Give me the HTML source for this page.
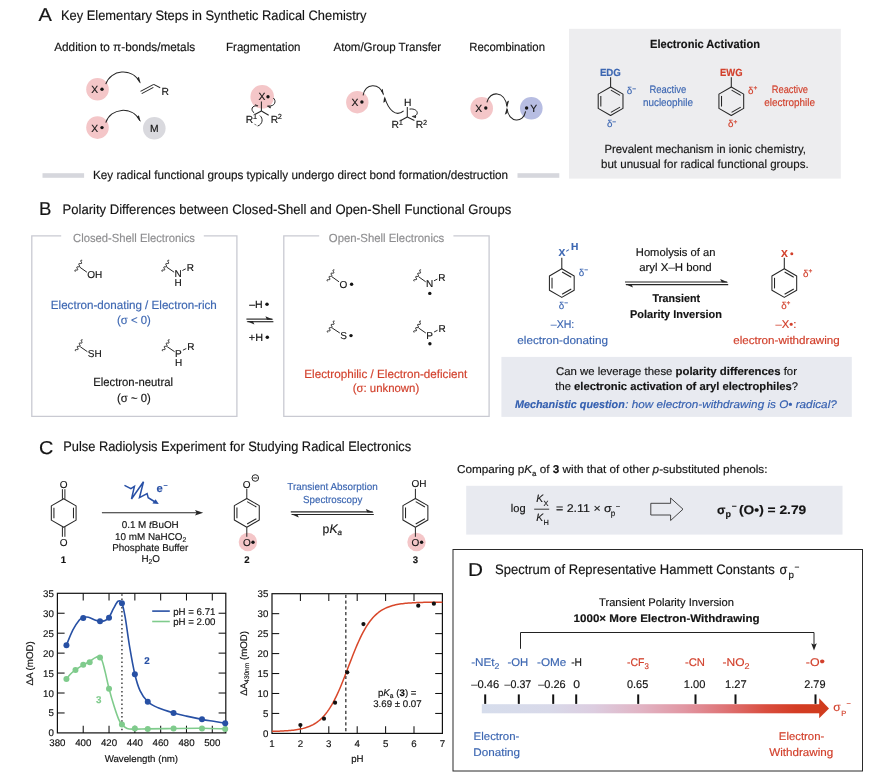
<!DOCTYPE html>
<html lang="en"><head><meta charset="utf-8"><title>Radical electronics figure</title>
<style>html,body{margin:0;padding:0;background:#fff}body{width:880px;height:783px;overflow:hidden}svg{display:block;font-family:"Liberation Sans",sans-serif;text-rendering:geometricPrecision}text{stroke-width:.16px}</style></head>
<body>
<svg width="880" height="783" viewBox="0 0 880 783">
<text x="38.6" y="21.2" font-size="18.6" fill="#141414" stroke="#141414" textLength="13.4" lengthAdjust="spacingAndGlyphs">A</text>
<text x="61" y="19.8" font-size="13.7" fill="#141414" stroke="#141414" textLength="305.5" lengthAdjust="spacingAndGlyphs">Key Elementary Steps in Synthetic Radical Chemistry</text>
<text x="54.2" y="50.8" font-size="12.0" fill="#141414" stroke="#141414" textLength="141" lengthAdjust="spacingAndGlyphs">Addition to π-bonds/metals</text>
<text x="226" y="50.8" font-size="12.0" fill="#141414" stroke="#141414" textLength="74.5" lengthAdjust="spacingAndGlyphs">Fragmentation</text>
<text x="333.5" y="50.8" font-size="12.0" fill="#141414" stroke="#141414" textLength="107.6" lengthAdjust="spacingAndGlyphs">Atom/Group Transfer</text>
<text x="469.2" y="50.8" font-size="12.0" fill="#141414" stroke="#141414" textLength="75.8" lengthAdjust="spacingAndGlyphs">Recombination</text>
<circle cx="97.5" cy="89.2" r="11.3" fill="#f4c6c8"/>
<text x="91.3" y="93.3" font-size="10.3" fill="#141414" stroke="#141414" stroke-width="0.25">X</text>
<circle cx="102" cy="89.2" r="1.7" fill="#141414"/>
<path d="M105.8,84.2 C110.5,69.5 132,67 140,82.4" stroke="#262626" stroke-width="1.05" fill="none"/>
<polygon points="140.70,83.80 138.90,76.80 137.00,78.60 139.30,81.60" fill="#262626"/>
<line x1="140.50" y1="91.40" x2="153.70" y2="84.40" stroke="#262626" stroke-width="1.05"/>
<line x1="141.70" y1="93.60" x2="153.40" y2="87.40" stroke="#262626" stroke-width="1.05"/>
<line x1="153.70" y1="84.40" x2="160.20" y2="87.80" stroke="#262626" stroke-width="1.05"/>
<text x="161.6" y="94.6" font-size="10.3" fill="#141414" stroke="#141414" stroke-width="0.25">R</text>
<circle cx="97.5" cy="127.6" r="11.3" fill="#f4c6c8"/>
<text x="91.3" y="131.6" font-size="10.3" fill="#141414" stroke="#141414" stroke-width="0.25">X</text>
<circle cx="102" cy="127.6" r="1.7" fill="#141414"/>
<path d="M105.8,122.6 C110.5,107.9 132,105.4 140,120.8" stroke="#262626" stroke-width="1.05" fill="none"/>
<polygon points="140.70,122.20 138.90,115.20 137.00,117.00 139.30,120.00" fill="#262626"/>
<circle cx="154.3" cy="128.2" r="11.3" fill="#d9d9de"/>
<text x="154.3" y="131.9" font-size="10.3" fill="#141414" text-anchor="middle" stroke="#141414" stroke-width="0.25">M</text>
<circle cx="262.2" cy="96.8" r="11.8" fill="#f4c6c8"/>
<text x="258.4" y="100.4" font-size="10.3" fill="#141414" stroke="#141414" stroke-width="0.25">X</text>
<circle cx="268" cy="96.8" r="1.7" fill="#141414"/>
<line x1="261.40" y1="101.60" x2="261.40" y2="111.00" stroke="#262626" stroke-width="1.05"/>
<line x1="261.40" y1="111.00" x2="255.30" y2="114.20" stroke="#262626" stroke-width="1.05"/>
<line x1="261.40" y1="111.00" x2="268.70" y2="115.20" stroke="#262626" stroke-width="1.05"/>
<text x="245.8" y="122.5" font-size="10.3" fill="#141414" stroke="#141414" stroke-width="0.25">R</text>
<text x="252.9" y="119.4" font-size="7.4" fill="#141414" stroke="#141414">1</text>
<text x="270.8" y="122.5" font-size="10.3" fill="#141414" stroke="#141414" stroke-width="0.25">R</text>
<text x="277.8" y="119.4" font-size="7.4" fill="#141414" stroke="#141414">2</text>
<path d="M273.3,98 C276.4,100.3 275.8,107 267.4,106" stroke="#262626" stroke-width="1.0" fill="none"/>
<polygon points="266.70,105.90 270.40,108.60 271.00,106.50" fill="#262626"/>
<path d="M254.2,112.9 C250.3,110.2 251.5,104.9 258,105.9" stroke="#262626" stroke-width="1.0" fill="none"/>
<polygon points="258.60,106.00 255.00,104.00 255.60,105.60" fill="#262626"/>
<path d="M259.9,115.6 C263.4,118.3 262.8,124.4 257.6,126" stroke="#262626" stroke-width="1.0" fill="none"/>
<polygon points="257.00,126.20 253.60,123.40 255.30,124.20" fill="#262626"/>
<circle cx="357.3" cy="102.2" r="11.2" fill="#f4c6c8"/>
<text x="351.6" y="105.8" font-size="10.3" fill="#141414" stroke="#141414" stroke-width="0.25">X</text>
<circle cx="361.9" cy="102" r="1.7" fill="#141414"/>
<path d="M363.1,95.4 C365.5,83 379,82.5 383.5,94.6" stroke="#262626" stroke-width="1.05" fill="none"/>
<polygon points="383.90,95.90 382.70,88.80 380.90,91.00 382.90,93.20" fill="#262626"/>
<path d="M403.6,110.8 C396,117.5 388.5,110 384.7,97.6" stroke="#262626" stroke-width="1.05" fill="none"/>
<polygon points="384.30,96.20 383.30,102.80 385.50,101.60 385.10,99.40" fill="#262626"/>
<text x="403.9" y="105.8" font-size="10.3" fill="#141414" stroke="#141414" stroke-width="0.25">H</text>
<line x1="407.30" y1="107.00" x2="407.30" y2="117.00" stroke="#262626" stroke-width="1.05"/>
<line x1="407.30" y1="117.00" x2="400.80" y2="120.50" stroke="#262626" stroke-width="1.05"/>
<line x1="407.30" y1="117.00" x2="414.40" y2="120.50" stroke="#262626" stroke-width="1.05"/>
<text x="391.5" y="127.6" font-size="10.3" fill="#141414" stroke="#141414" stroke-width="0.25">R</text>
<text x="398.7" y="125" font-size="7.4" fill="#141414" stroke="#141414">1</text>
<text x="415.8" y="127.6" font-size="10.3" fill="#141414" stroke="#141414" stroke-width="0.25">R</text>
<text x="423.1" y="125" font-size="7.4" fill="#141414" stroke="#141414">2</text>
<path d="M409.5,109.1 C418.4,107.8 420,116 412.4,116.4" stroke="#262626" stroke-width="1.0" fill="none"/>
<polygon points="411.40,116.50 415.80,118.20 416.20,115.90" fill="#262626"/>
<circle cx="481.7" cy="108.3" r="11.3" fill="#f4c6c8"/>
<circle cx="531.3" cy="108.3" r="11.3" fill="#b7bde2"/>
<text x="475.2" y="112" font-size="10.3" fill="#141414" stroke="#141414" stroke-width="0.25">X</text>
<circle cx="485.8" cy="108" r="1.7" fill="#141414"/>
<circle cx="526.6" cy="108" r="1.7" fill="#141414"/>
<text x="530.2" y="112" font-size="10.3" fill="#141414" stroke="#141414" stroke-width="0.25">Y</text>
<path d="M486.9,102.3 C489.5,90.5 505,90.5 506.9,106.4" stroke="#262626" stroke-width="1.05" fill="none"/>
<polygon points="507.00,107.90 509.10,100.60 506.50,102.00 506.60,104.60" fill="#262626"/>
<path d="M525.6,111.4 C523.5,123.5 508.5,123 507.1,108.8" stroke="#262626" stroke-width="1.05" fill="none"/>
<polygon points="507.00,107.20 504.80,114.70 507.50,113.10 507.40,110.60" fill="#262626"/>
<rect x="42.5" y="173.2" width="41.6" height="4.6" fill="#d6d7dd"/>
<rect x="517.5" y="173.2" width="41.8" height="4.6" fill="#d6d7dd"/>
<text x="93" y="178.7" font-size="12.0" fill="#141414" stroke="#141414" textLength="415" lengthAdjust="spacingAndGlyphs">Key radical functional groups typically undergo direct bond formation/destruction</text>
<rect x="569" y="28.8" width="271.8" height="149.8" fill="#ededef"/>
<text x="650" y="48" font-size="11.8" fill="#141414" stroke="#141414" font-weight="bold" textLength="110" lengthAdjust="spacingAndGlyphs">Electronic Activation</text>
<text x="599.9" y="75.9" font-size="10.3" fill="#3d67b2" stroke="#3d67b2" font-weight="bold" textLength="21" lengthAdjust="spacingAndGlyphs">EDG</text>
<polygon points="610.60,86.95 622.98,94.10 622.98,108.40 610.60,115.55 598.22,108.40 598.22,94.10" fill="none" stroke="#262626" stroke-width="1.05" stroke-linejoin="round"/>
<line x1="610.91" y1="90.13" x2="620.07" y2="95.42" stroke="#262626" stroke-width="1.05"/>
<line x1="620.07" y1="107.08" x2="610.91" y2="112.37" stroke="#262626" stroke-width="1.05"/>
<line x1="600.82" y1="106.54" x2="600.82" y2="95.96" stroke="#262626" stroke-width="1.05"/>
<line x1="610.60" y1="77.20" x2="610.60" y2="87.20" stroke="#262626" stroke-width="1.05"/>
<text x="626.8" y="94.2" font-size="9.8" fill="#3d67b2" stroke="#3d67b2">δ</text>
<text x="632.1999999999999" y="90.8" font-size="6.6" fill="#3d67b2" stroke="#3d67b2">−</text>
<text x="606.9" y="127.4" font-size="9.8" fill="#3d67b2" stroke="#3d67b2">δ</text>
<text x="612.3" y="124.0" font-size="6.6" fill="#3d67b2" stroke="#3d67b2">−</text>
<text x="649.5" y="92.6" font-size="10.8" fill="#3d67b2" stroke="#3d67b2" textLength="36.8" lengthAdjust="spacingAndGlyphs">Reactive</text>
<text x="643" y="105.8" font-size="10.8" fill="#3d67b2" stroke="#3d67b2" textLength="50" lengthAdjust="spacingAndGlyphs">nucleophile</text>
<text x="720" y="75.9" font-size="10.3" fill="#d2402c" stroke="#d2402c" font-weight="bold" textLength="22.5" lengthAdjust="spacingAndGlyphs">EWG</text>
<polygon points="731.30,86.95 743.68,94.10 743.68,108.40 731.30,115.55 718.92,108.40 718.92,94.10" fill="none" stroke="#262626" stroke-width="1.05" stroke-linejoin="round"/>
<line x1="731.61" y1="90.13" x2="740.77" y2="95.42" stroke="#262626" stroke-width="1.05"/>
<line x1="740.77" y1="107.08" x2="731.61" y2="112.37" stroke="#262626" stroke-width="1.05"/>
<line x1="721.52" y1="106.54" x2="721.52" y2="95.96" stroke="#262626" stroke-width="1.05"/>
<line x1="731.30" y1="77.20" x2="731.30" y2="87.20" stroke="#262626" stroke-width="1.05"/>
<text x="748" y="93.6" font-size="9.8" fill="#d2402c" stroke="#d2402c">δ</text>
<text x="753.4" y="90.19999999999999" font-size="6.6" fill="#d2402c" stroke="#d2402c">+</text>
<text x="728" y="127.4" font-size="9.8" fill="#d2402c" stroke="#d2402c">δ</text>
<text x="733.4" y="124.0" font-size="6.6" fill="#d2402c" stroke="#d2402c">+</text>
<text x="771.8" y="92.6" font-size="10.8" fill="#d2402c" stroke="#d2402c" textLength="36.2" lengthAdjust="spacingAndGlyphs">Reactive</text>
<text x="764.2" y="105.8" font-size="10.8" fill="#d2402c" stroke="#d2402c" textLength="50.8" lengthAdjust="spacingAndGlyphs">electrophile</text>
<text x="604.4" y="152.6" font-size="11.8" fill="#141414" stroke="#141414" textLength="201.6" lengthAdjust="spacingAndGlyphs">Prevalent mechanism in ionic chemistry,</text>
<text x="601" y="168.4" font-size="11.8" fill="#141414" stroke="#141414" textLength="207.6" lengthAdjust="spacingAndGlyphs">but unusual for radical functional groups.</text>
<text x="39.1" y="215.1" font-size="18.6" fill="#141414" stroke="#141414" textLength="12.4" lengthAdjust="spacingAndGlyphs">B</text>
<text x="62.5" y="213.5" font-size="13.7" fill="#141414" stroke="#141414" textLength="448.7" lengthAdjust="spacingAndGlyphs">Polarity Differences between Closed-Shell and Open-Shell Functional Groups</text>
<path d="M61.2,235.8 H31.8 V416.3 H236.9 V235.8 H203.8" stroke="#c9cad2" stroke-width="1.3" fill="none"/>
<text x="73" y="241.8" font-size="11.8" fill="#8e8e90" stroke="#8e8e90" textLength="122" lengthAdjust="spacingAndGlyphs">Closed-Shell Electronics</text>
<path d="M82.20,260.30 L81.29,260.30 L80.77,260.54 L80.80,261.12 L81.21,261.93 L81.63,262.74 L81.66,263.31 L81.14,263.55 L80.23,263.56 L79.32,263.56 L78.79,263.80 L78.82,264.38 L79.24,265.19 L79.66,266.00 L79.69,266.57 L79.17,266.81 L78.26,266.81 L77.35,266.82 L76.82,267.06 L76.85,267.63 L77.27,268.44 L77.69,269.25 L77.72,269.83 L77.20,270.07 L76.29,270.07 L75.37,270.08 L74.85,270.32 L74.88,270.89 L75.30,271.70" stroke="#262626" stroke-width="1.0" fill="none"/>
<line x1="79.80" y1="267.20" x2="86.90" y2="272.20" stroke="#262626" stroke-width="1.0"/>
<text x="87.3" y="277.8" font-size="10.0" fill="#141414" stroke="#141414" stroke-width="0.25">OH</text>
<path d="M169.20,260.30 L168.29,260.30 L167.77,260.54 L167.80,261.12 L168.21,261.93 L168.63,262.74 L168.66,263.31 L168.14,263.55 L167.23,263.56 L166.32,263.56 L165.79,263.80 L165.82,264.38 L166.24,265.19 L166.66,266.00 L166.69,266.57 L166.17,266.81 L165.26,266.81 L164.35,266.82 L163.82,267.06 L163.85,267.63 L164.27,268.44 L164.69,269.25 L164.72,269.83 L164.20,270.07 L163.29,270.07 L162.37,270.08 L161.85,270.32 L161.88,270.89 L162.30,271.70" stroke="#262626" stroke-width="1.0" fill="none"/>
<line x1="166.80" y1="267.20" x2="174.10" y2="272.20" stroke="#262626" stroke-width="1.0"/>
<text x="174.5" y="277.1" font-size="10.0" fill="#141414" stroke="#141414" stroke-width="0.25">N</text>
<line x1="182.40" y1="270.50" x2="185.80" y2="268.80" stroke="#262626" stroke-width="1.0"/>
<text x="186.7" y="270.70000000000005" font-size="10.0" fill="#141414" stroke="#141414" stroke-width="0.25">R</text>
<text x="174.6" y="286.1" font-size="10.0" fill="#141414" stroke="#141414" stroke-width="0.25">H</text>
<text x="50.8" y="308.8" font-size="11.8" fill="#3d67b2" stroke="#3d67b2" textLength="166" lengthAdjust="spacingAndGlyphs">Electron-donating / Electron-rich</text>
<text x="117" y="323.8" font-size="11.8" fill="#3d67b2" stroke="#3d67b2" textLength="33.8" lengthAdjust="spacingAndGlyphs">(σ &lt; 0)</text>
<path d="M82.60,339.80 L81.69,339.80 L81.17,340.04 L81.20,340.62 L81.61,341.43 L82.03,342.24 L82.06,342.81 L81.54,343.05 L80.63,343.06 L79.72,343.06 L79.19,343.30 L79.22,343.88 L79.64,344.69 L80.06,345.50 L80.09,346.07 L79.57,346.31 L78.66,346.31 L77.75,346.32 L77.22,346.56 L77.25,347.13 L77.67,347.94 L78.09,348.75 L78.12,349.33 L77.60,349.57 L76.69,349.57 L75.77,349.58 L75.25,349.82 L75.28,350.39 L75.70,351.20" stroke="#262626" stroke-width="1.0" fill="none"/>
<line x1="80.20" y1="346.70" x2="87.40" y2="351.70" stroke="#262626" stroke-width="1.0"/>
<text x="87.8" y="357.3" font-size="10.0" fill="#141414" stroke="#141414" stroke-width="0.25">SH</text>
<path d="M169.60,339.80 L168.69,339.80 L168.17,340.04 L168.20,340.62 L168.61,341.43 L169.03,342.24 L169.06,342.81 L168.54,343.05 L167.63,343.06 L166.72,343.06 L166.19,343.30 L166.22,343.88 L166.64,344.69 L167.06,345.50 L167.09,346.07 L166.57,346.31 L165.66,346.31 L164.75,346.32 L164.22,346.56 L164.25,347.13 L164.67,347.94 L165.09,348.75 L165.12,349.33 L164.60,349.57 L163.69,349.57 L162.77,349.58 L162.25,349.82 L162.28,350.39 L162.70,351.20" stroke="#262626" stroke-width="1.0" fill="none"/>
<line x1="167.20" y1="346.70" x2="174.60" y2="351.70" stroke="#262626" stroke-width="1.0"/>
<text x="175.0" y="356.8" font-size="10.0" fill="#141414" stroke="#141414" stroke-width="0.25">P</text>
<line x1="182.90" y1="350.20" x2="186.30" y2="348.50" stroke="#262626" stroke-width="1.0"/>
<text x="187.2" y="350.40000000000003" font-size="10.0" fill="#141414" stroke="#141414" stroke-width="0.25">R</text>
<text x="175.1" y="365.8" font-size="10.0" fill="#141414" stroke="#141414" stroke-width="0.25">H</text>
<text x="93.2" y="386.3" font-size="11.8" fill="#141414" stroke="#141414" textLength="79.8" lengthAdjust="spacingAndGlyphs">Electron-neutral</text>
<text x="117" y="401.8" font-size="11.8" fill="#141414" stroke="#141414" textLength="33.8" lengthAdjust="spacingAndGlyphs">(σ ~ 0)</text>
<text x="249.2" y="307.9" font-size="10.6" fill="#141414" textLength="13.6" lengthAdjust="spacingAndGlyphs" stroke="#141414" stroke-width="0.25">–H</text>
<circle cx="267.0" cy="304.3" r="1.75" fill="#141414"/>
<text x="248.8" y="340.8" font-size="10.6" fill="#141414" textLength="14.2" lengthAdjust="spacingAndGlyphs" stroke="#141414" stroke-width="0.25">+H</text>
<circle cx="267.3" cy="337.2" r="1.75" fill="#141414"/>
<line x1="246.40" y1="319.10" x2="272.40" y2="319.10" stroke="#262626" stroke-width="1.15"/>
<polygon points="273.40,319.68 265.40,316.20 267.00,319.68" fill="#262626"/>
<line x1="247.40" y1="321.70" x2="273.40" y2="321.70" stroke="#262626" stroke-width="1.15"/>
<polygon points="246.40,321.12 254.40,324.60 252.80,321.12" fill="#262626"/>
<path d="M319.2,235.8 H283.8 V416.3 H489.1 V235.8 H453.4" stroke="#c9cad2" stroke-width="1.3" fill="none"/>
<text x="328.8" y="241.8" font-size="11.8" fill="#8e8e90" stroke="#8e8e90" textLength="115.5" lengthAdjust="spacingAndGlyphs">Open-Shell Electronics</text>
<path d="M334.40,269.90 L333.49,269.90 L332.97,270.14 L333.00,270.72 L333.41,271.53 L333.83,272.34 L333.86,272.91 L333.34,273.15 L332.43,273.16 L331.52,273.16 L330.99,273.40 L331.02,273.98 L331.44,274.79 L331.86,275.60 L331.89,276.17 L331.37,276.41 L330.46,276.41 L329.55,276.42 L329.02,276.66 L329.05,277.23 L329.47,278.04 L329.89,278.85 L329.92,279.43 L329.40,279.67 L328.49,279.67 L327.57,279.68 L327.05,279.92 L327.08,280.49 L327.50,281.30" stroke="#262626" stroke-width="1.0" fill="none"/>
<line x1="332.00" y1="276.80" x2="339.00" y2="281.80" stroke="#262626" stroke-width="1.0"/>
<text x="339.4" y="288.09999999999997" font-size="10.0" fill="#141414" stroke="#141414" stroke-width="0.25">O</text>
<circle cx="351.59999999999997" cy="284.29999999999995" r="1.7" fill="#141414"/>
<path d="M421.10,269.90 L420.19,269.90 L419.67,270.14 L419.70,270.72 L420.11,271.53 L420.53,272.34 L420.56,272.91 L420.04,273.15 L419.13,273.16 L418.22,273.16 L417.69,273.40 L417.72,273.98 L418.14,274.79 L418.56,275.60 L418.59,276.17 L418.07,276.41 L417.16,276.41 L416.25,276.42 L415.72,276.66 L415.75,277.23 L416.17,278.04 L416.59,278.85 L416.62,279.43 L416.10,279.67 L415.19,279.67 L414.27,279.68 L413.75,279.92 L413.78,280.49 L414.20,281.30" stroke="#262626" stroke-width="1.0" fill="none"/>
<line x1="418.70" y1="276.80" x2="425.70" y2="281.80" stroke="#262626" stroke-width="1.0"/>
<text x="426.1" y="287.4" font-size="10.0" fill="#141414" stroke="#141414" stroke-width="0.25">N</text>
<line x1="434.00" y1="280.80" x2="437.40" y2="279.10" stroke="#262626" stroke-width="1.0"/>
<text x="438.3" y="281.0" font-size="10.0" fill="#141414" stroke="#141414" stroke-width="0.25">R</text>
<circle cx="429.8" cy="293.4" r="1.7" fill="#141414"/>
<path d="M334.60,321.10 L333.69,321.10 L333.17,321.34 L333.20,321.92 L333.61,322.73 L334.03,323.54 L334.06,324.11 L333.54,324.35 L332.63,324.36 L331.72,324.36 L331.19,324.60 L331.22,325.18 L331.64,325.99 L332.06,326.80 L332.09,327.37 L331.57,327.61 L330.66,327.61 L329.75,327.62 L329.22,327.86 L329.25,328.43 L329.67,329.24 L330.09,330.05 L330.12,330.63 L329.60,330.87 L328.69,330.87 L327.77,330.88 L327.25,331.12 L327.28,331.69 L327.70,332.50" stroke="#262626" stroke-width="1.0" fill="none"/>
<line x1="332.20" y1="328.00" x2="339.80" y2="333.00" stroke="#262626" stroke-width="1.0"/>
<text x="340.20000000000005" y="339.40000000000003" font-size="10.0" fill="#141414" stroke="#141414" stroke-width="0.25">S</text>
<circle cx="351.00000000000006" cy="335.6" r="1.7" fill="#141414"/>
<path d="M421.00,321.10 L420.09,321.10 L419.57,321.34 L419.60,321.92 L420.01,322.73 L420.43,323.54 L420.46,324.11 L419.94,324.35 L419.03,324.36 L418.12,324.36 L417.59,324.60 L417.62,325.18 L418.04,325.99 L418.46,326.80 L418.49,327.37 L417.97,327.61 L417.06,327.61 L416.15,327.62 L415.62,327.86 L415.65,328.43 L416.07,329.24 L416.49,330.05 L416.52,330.63 L416.00,330.87 L415.09,330.87 L414.17,330.88 L413.65,331.12 L413.68,331.69 L414.10,332.50" stroke="#262626" stroke-width="1.0" fill="none"/>
<line x1="418.60" y1="328.00" x2="425.80" y2="333.00" stroke="#262626" stroke-width="1.0"/>
<text x="426.2" y="338.6" font-size="10.0" fill="#141414" stroke="#141414" stroke-width="0.25">P</text>
<line x1="434.10" y1="332.00" x2="437.50" y2="330.30" stroke="#262626" stroke-width="1.0"/>
<text x="438.4" y="332.20000000000005" font-size="10.0" fill="#141414" stroke="#141414" stroke-width="0.25">R</text>
<circle cx="429.9" cy="343.70000000000005" r="1.7" fill="#141414"/>
<text x="304.3" y="377.5" font-size="11.8" fill="#d2402c" stroke="#d2402c" textLength="163" lengthAdjust="spacingAndGlyphs">Electrophilic / Electron-deficient</text>
<text x="352.7" y="392.4" font-size="11.8" fill="#d2402c" stroke="#d2402c" textLength="66.5" lengthAdjust="spacingAndGlyphs">(σ: unknown)</text>
<polygon points="561.80,268.80 574.18,275.95 574.18,290.25 561.80,297.40 549.42,290.25 549.42,275.95" fill="none" stroke="#262626" stroke-width="1.05" stroke-linejoin="round"/>
<line x1="562.11" y1="271.98" x2="571.27" y2="277.27" stroke="#262626" stroke-width="1.05"/>
<line x1="571.27" y1="288.93" x2="562.11" y2="294.22" stroke="#262626" stroke-width="1.05"/>
<line x1="552.02" y1="288.39" x2="552.02" y2="277.81" stroke="#262626" stroke-width="1.05"/>
<line x1="561.80" y1="257.80" x2="561.80" y2="269.00" stroke="#262626" stroke-width="1.05"/>
<text x="558.4" y="256.4" font-size="10.2" fill="#3d67b2" stroke="#3d67b2" font-weight="bold">X</text>
<line x1="566.20" y1="251.40" x2="568.90" y2="249.60" stroke="#3d67b2" stroke-width="1.1"/>
<text x="571" y="249.7" font-size="10.2" fill="#3d67b2" stroke="#3d67b2" font-weight="bold">H</text>
<text x="578.8" y="275.6" font-size="9.8" fill="#3d67b2" stroke="#3d67b2">δ</text>
<text x="584.1999999999999" y="272.20000000000005" font-size="6.6" fill="#3d67b2" stroke="#3d67b2">−</text>
<text x="558.8" y="308.8" font-size="9.8" fill="#3d67b2" stroke="#3d67b2">δ</text>
<text x="564.1999999999999" y="305.40000000000003" font-size="6.6" fill="#3d67b2" stroke="#3d67b2">−</text>
<text x="550.8" y="328.3" font-size="11.2" fill="#3d67b2" stroke="#3d67b2" textLength="23.5" lengthAdjust="spacingAndGlyphs">–XH:</text>
<text x="517.3" y="343.8" font-size="11.2" fill="#3d67b2" stroke="#3d67b2" textLength="90.7" lengthAdjust="spacingAndGlyphs">electron-donating</text>
<text x="635.8" y="255.6" font-size="11.2" fill="#141414" stroke="#141414" textLength="79.7" lengthAdjust="spacingAndGlyphs">Homolysis of an</text>
<text x="639.2" y="270.8" font-size="11.2" fill="#141414" stroke="#141414" textLength="72.5" lengthAdjust="spacingAndGlyphs">aryl X–H bond</text>
<line x1="625.00" y1="282.00" x2="727.20" y2="282.00" stroke="#262626" stroke-width="1.15"/>
<polygon points="728.20,282.57 720.20,279.10 721.80,282.57" fill="#262626"/>
<line x1="626.00" y1="284.60" x2="728.20" y2="284.60" stroke="#262626" stroke-width="1.15"/>
<polygon points="625.00,284.03 633.00,287.50 631.40,284.03" fill="#262626"/>
<text x="652.5" y="302" font-size="11.2" fill="#141414" stroke="#141414" font-weight="bold" textLength="47.5" lengthAdjust="spacingAndGlyphs">Transient</text>
<text x="630" y="317.6" font-size="11.2" fill="#141414" stroke="#141414" font-weight="bold" textLength="92" lengthAdjust="spacingAndGlyphs">Polarity Inversion</text>
<polygon points="784.30,268.80 796.68,275.95 796.68,290.25 784.30,297.40 771.92,290.25 771.92,275.95" fill="none" stroke="#262626" stroke-width="1.05" stroke-linejoin="round"/>
<line x1="784.61" y1="271.98" x2="793.77" y2="277.27" stroke="#262626" stroke-width="1.05"/>
<line x1="793.77" y1="288.93" x2="784.61" y2="294.22" stroke="#262626" stroke-width="1.05"/>
<line x1="774.52" y1="288.39" x2="774.52" y2="277.81" stroke="#262626" stroke-width="1.05"/>
<line x1="784.30" y1="257.80" x2="784.30" y2="269.00" stroke="#262626" stroke-width="1.05"/>
<text x="781" y="257" font-size="10.2" fill="#d2402c" stroke="#d2402c" font-weight="bold">X</text>
<circle cx="791.8" cy="253.7" r="1.5" fill="#d2402c"/>
<text x="803" y="276.8" font-size="9.8" fill="#d2402c" stroke="#d2402c">δ</text>
<text x="808.4" y="273.40000000000003" font-size="6.6" fill="#d2402c" stroke="#d2402c">+</text>
<text x="781.2" y="308.8" font-size="9.8" fill="#d2402c" stroke="#d2402c">δ</text>
<text x="786.6" y="305.40000000000003" font-size="6.6" fill="#d2402c" stroke="#d2402c">+</text>
<text x="775.5" y="328.3" font-size="11.2" fill="#d2402c" stroke="#d2402c" textLength="20.8" lengthAdjust="spacingAndGlyphs">–X•:</text>
<text x="733.2" y="343.8" font-size="11.2" fill="#d2402c" stroke="#d2402c" textLength="106.6" lengthAdjust="spacingAndGlyphs">electron-withdrawing</text>
<rect x="501.4" y="356.9" width="350.4" height="60" fill="#e8eaf0"/>
<text x="556" y="374.8" font-size="11.2" fill="#141414" stroke="#141414" textLength="241" lengthAdjust="spacingAndGlyphs">Can we leverage these <tspan font-weight="bold">polarity differences</tspan> for</text>
<text x="555.3" y="390.2" font-size="11.2" fill="#141414" stroke="#141414" textLength="242.7" lengthAdjust="spacingAndGlyphs">the <tspan font-weight="bold">electronic activation of aryl electrophiles</tspan>?</text>
<text x="515" y="407.7" font-size="11.0" fill="#3560b0" stroke="#3560b0" font-weight="bold" font-style="italic" textLength="109.8" lengthAdjust="spacingAndGlyphs">Mechanistic question</text>
<text x="625.2" y="407.7" font-size="11.0" fill="#3560b0" stroke="#3560b0" font-style="italic" textLength="211.6" lengthAdjust="spacingAndGlyphs">: how electron-withdrawing is O• radical?</text>
<text x="39" y="454.4" font-size="18.6" fill="#141414" stroke="#141414" textLength="14.4" lengthAdjust="spacingAndGlyphs">C</text>
<text x="63.2" y="451.4" font-size="13.7" fill="#141414" stroke="#141414" textLength="348" lengthAdjust="spacingAndGlyphs">Pulse Radiolysis Experiment for Studying Radical Electronics</text>
<polygon points="63.70,498.70 76.08,505.85 76.08,520.15 63.70,527.30 51.32,520.15 51.32,505.85" fill="none" stroke="#262626" stroke-width="1.05" stroke-linejoin="round"/>
<line x1="73.48" y1="507.71" x2="73.48" y2="518.29" stroke="#262626" stroke-width="1.05"/>
<line x1="53.92" y1="518.29" x2="53.92" y2="507.71" stroke="#262626" stroke-width="1.05"/>
<line x1="62.40" y1="498.90" x2="62.40" y2="489.20" stroke="#262626" stroke-width="1.0"/>
<line x1="64.90" y1="498.90" x2="64.90" y2="489.20" stroke="#262626" stroke-width="1.0"/>
<line x1="62.40" y1="527.10" x2="62.40" y2="536.80" stroke="#262626" stroke-width="1.0"/>
<line x1="64.90" y1="527.10" x2="64.90" y2="536.80" stroke="#262626" stroke-width="1.0"/>
<text x="63.6" y="487.7" font-size="10.0" fill="#141414" text-anchor="middle" stroke="#141414" stroke-width="0.25">O</text>
<text x="63.6" y="545.5" font-size="10.0" fill="#141414" text-anchor="middle" stroke="#141414" stroke-width="0.25">O</text>
<text x="63.4" y="562.7" font-size="9.6" fill="#141414" stroke="#141414" text-anchor="middle" font-weight="bold">1</text>
<line x1="101.90" y1="512.75" x2="198.00" y2="512.75" stroke="#262626" stroke-width="1.1"/>
<polygon points="203.20,512.75 195.00,510.10 196.60,512.75 195.00,515.40" fill="#262626"/>
<path d="M125,485.6 L130.9,488.7 L134.4,486.4 L131.5,499 L143.5,481.8 L139.5,497.6 L147.1,493.5 L148.2,497.7 L155.2,502" stroke="#2850a6" stroke-width="1.5" fill="none" stroke-linejoin="miter" stroke-linecap="round"/>
<polygon points="158.80,503.90 152.40,503.60 155.60,499.20" fill="#2850a6"/>
<text x="156.5" y="491.8" font-size="11.2" fill="#2850a6" stroke="#2850a6" font-weight="bold">e</text>
<text x="163.4" y="487.8" font-size="7.2" fill="#2850a6" stroke="#2850a6" font-weight="bold">−</text>
<text x="150.2" y="528.4" font-size="9.9" fill="#141414" text-anchor="middle" stroke="#141414" stroke-width="0.25">0.1 M <tspan font-style="italic">t</tspan>BuOH</text>
<text x="150.7" y="539.6" font-size="9.9" fill="#141414" text-anchor="middle" stroke="#141414" stroke-width="0.25">10 mM NaHCO<tspan font-size="6.8" dy="2.2">2</tspan></text>
<text x="150.3" y="550.9" font-size="9.9" fill="#141414" text-anchor="middle" stroke="#141414" stroke-width="0.25">Phosphate Buffer</text>
<text x="150.7" y="561.9" font-size="9.9" fill="#141414" text-anchor="middle" stroke="#141414" stroke-width="0.25">H<tspan font-size="6.8" dy="2.2">2</tspan><tspan dy="-2.2">O</tspan></text>
<polygon points="246.80,498.45 259.27,505.65 259.27,520.05 246.80,527.25 234.33,520.05 234.33,505.65" fill="none" stroke="#262626" stroke-width="1.05" stroke-linejoin="round"/>
<line x1="247.12" y1="501.64" x2="256.35" y2="506.97" stroke="#262626" stroke-width="1.05"/>
<line x1="256.35" y1="518.73" x2="247.12" y2="524.06" stroke="#262626" stroke-width="1.05"/>
<line x1="236.93" y1="518.18" x2="236.93" y2="507.52" stroke="#262626" stroke-width="1.05"/>
<line x1="246.80" y1="498.40" x2="246.80" y2="488.80" stroke="#262626" stroke-width="1.0"/>
<text x="246.7" y="487.6" font-size="10.0" fill="#141414" text-anchor="middle" stroke="#141414" stroke-width="0.25">O</text>
<circle cx="255.3" cy="478" r="3.3" fill="none" stroke="#262626" stroke-width="1"/>
<line x1="253.30" y1="478.00" x2="257.30" y2="478.00" stroke="#262626" stroke-width="1.0"/>
<circle cx="247.9" cy="542" r="9.2" fill="#f4c6c8"/>
<line x1="246.80" y1="527.30" x2="246.80" y2="536.80" stroke="#262626" stroke-width="1.0"/>
<text x="242.9" y="545.5" font-size="10.0" fill="#141414" stroke="#141414" stroke-width="0.25">O</text>
<circle cx="253" cy="542.3" r="1.7" fill="#141414"/>
<text x="246.9" y="562.7" font-size="9.6" fill="#141414" stroke="#141414" text-anchor="middle" font-weight="bold">2</text>
<text x="287.3" y="489.6" font-size="10.2" fill="#3d67b2" stroke="#3d67b2" textLength="90.5" lengthAdjust="spacingAndGlyphs">Transient Absorption</text>
<text x="303" y="503.1" font-size="10.2" fill="#3d67b2" stroke="#3d67b2" textLength="59.3" lengthAdjust="spacingAndGlyphs">Spectroscopy</text>
<line x1="290.80" y1="511.80" x2="372.80" y2="511.80" stroke="#262626" stroke-width="1.15"/>
<polygon points="373.80,512.38 365.80,508.90 367.40,512.38" fill="#262626"/>
<line x1="291.80" y1="514.50" x2="373.80" y2="514.50" stroke="#262626" stroke-width="1.15"/>
<polygon points="290.80,513.92 298.80,517.40 297.20,513.92" fill="#262626"/>
<text x="322.6" y="533" font-size="12.2" fill="#141414" stroke="#141414">p<tspan font-style="italic">K</tspan><tspan font-style="italic" font-size="8" dy="2.4">a</tspan></text>
<polygon points="415.40,498.45 427.87,505.65 427.87,520.05 415.40,527.25 402.93,520.05 402.93,505.65" fill="none" stroke="#262626" stroke-width="1.05" stroke-linejoin="round"/>
<line x1="415.72" y1="501.64" x2="424.95" y2="506.97" stroke="#262626" stroke-width="1.05"/>
<line x1="424.95" y1="518.73" x2="415.72" y2="524.06" stroke="#262626" stroke-width="1.05"/>
<line x1="405.53" y1="518.18" x2="405.53" y2="507.52" stroke="#262626" stroke-width="1.05"/>
<line x1="415.40" y1="498.40" x2="415.40" y2="488.80" stroke="#262626" stroke-width="1.0"/>
<text x="411.5" y="487.4" font-size="10.0" fill="#141414" stroke="#141414" stroke-width="0.25">OH</text>
<circle cx="416.5" cy="542" r="9.2" fill="#f4c6c8"/>
<line x1="415.40" y1="527.30" x2="415.40" y2="536.80" stroke="#262626" stroke-width="1.0"/>
<text x="411.5" y="545.5" font-size="10.0" fill="#141414" stroke="#141414" stroke-width="0.25">O</text>
<circle cx="421.6" cy="542.3" r="1.7" fill="#141414"/>
<text x="415.5" y="562.7" font-size="9.6" fill="#141414" stroke="#141414" text-anchor="middle" font-weight="bold">3</text>
<text x="457" y="473.3" font-size="11.3" fill="#141414" stroke="#141414" textLength="310.5" lengthAdjust="spacingAndGlyphs">Comparing p<tspan font-style="italic">K</tspan><tspan font-size="7.6" dy="2.4">a</tspan><tspan dy="-2.4"> of </tspan><tspan font-weight="bold">3</tspan> with that of other <tspan font-style="italic">p</tspan>-substituted phenols:</text>
<rect x="466.2" y="485.8" width="376.3" height="48.8" fill="#e8eaf0"/>
<text x="510.8" y="512.4" font-size="11.2" fill="#141414" stroke="#141414" textLength="14.8" lengthAdjust="spacingAndGlyphs">log</text>
<text x="536.2" y="502.3" font-size="10.4" fill="#141414" stroke="#141414" font-style="italic">K</text>
<text x="543.4" y="506.4" font-size="7.4" fill="#141414" stroke="#141414">X</text>
<line x1="534.20" y1="509.20" x2="549.20" y2="509.20" stroke="#262626" stroke-width="0.9"/>
<text x="536.2" y="520.7" font-size="10.4" fill="#141414" stroke="#141414" font-style="italic">K</text>
<text x="543.4" y="525" font-size="7.4" fill="#141414" stroke="#141414">H</text>
<text x="556" y="512.4" font-size="11.2" fill="#141414" stroke="#141414" textLength="55.8" lengthAdjust="spacingAndGlyphs">= 2.11 × σ</text>
<text x="610.8" y="515.6" font-size="8.2" fill="#141414" stroke="#141414">p</text>
<text x="615.8" y="508.6" font-size="7.6" fill="#141414" stroke="#141414">−</text>
<path d="M650.8,503.3 H670.6 V498 L683,509.2 L670.6,520.5 V515 H650.8 Z" stroke="#333" stroke-width="0.9" fill="none"/>
<text x="717" y="513.9" font-size="12.3" fill="#141414" stroke="#141414" font-weight="bold" textLength="8.4" lengthAdjust="spacingAndGlyphs">σ</text>
<text x="725.5" y="517.2" font-size="9" fill="#141414" stroke="#141414" font-weight="bold">p</text>
<text x="731.8" y="509.4" font-size="8.4" fill="#141414" stroke="#141414" font-weight="bold">−</text>
<text x="739" y="513.9" font-size="12.3" fill="#141414" stroke="#141414" font-weight="bold" textLength="67.3" lengthAdjust="spacingAndGlyphs">(O•) = 2.79</text>
<rect x="57.4" y="593.3" width="168.40" height="139.60" fill="#fff" stroke="#111" stroke-width="1.2"/>
<line x1="83.22" y1="732.90" x2="83.22" y2="725.70" stroke="#111" stroke-width="1.05"/>
<line x1="83.22" y1="593.30" x2="83.22" y2="600.50" stroke="#111" stroke-width="1.05"/>
<line x1="109.03" y1="732.90" x2="109.03" y2="725.70" stroke="#111" stroke-width="1.05"/>
<line x1="109.03" y1="593.30" x2="109.03" y2="600.50" stroke="#111" stroke-width="1.05"/>
<line x1="134.85" y1="732.90" x2="134.85" y2="725.70" stroke="#111" stroke-width="1.05"/>
<line x1="134.85" y1="593.30" x2="134.85" y2="600.50" stroke="#111" stroke-width="1.05"/>
<line x1="160.67" y1="732.90" x2="160.67" y2="725.70" stroke="#111" stroke-width="1.05"/>
<line x1="160.67" y1="593.30" x2="160.67" y2="600.50" stroke="#111" stroke-width="1.05"/>
<line x1="186.48" y1="732.90" x2="186.48" y2="725.70" stroke="#111" stroke-width="1.05"/>
<line x1="186.48" y1="593.30" x2="186.48" y2="600.50" stroke="#111" stroke-width="1.05"/>
<line x1="212.30" y1="732.90" x2="212.30" y2="725.70" stroke="#111" stroke-width="1.05"/>
<line x1="212.30" y1="593.30" x2="212.30" y2="600.50" stroke="#111" stroke-width="1.05"/>
<line x1="57.40" y1="712.96" x2="64.60" y2="712.96" stroke="#111" stroke-width="1.05"/>
<line x1="225.80" y1="712.96" x2="218.60" y2="712.96" stroke="#111" stroke-width="1.05"/>
<line x1="57.40" y1="693.01" x2="64.60" y2="693.01" stroke="#111" stroke-width="1.05"/>
<line x1="225.80" y1="693.01" x2="218.60" y2="693.01" stroke="#111" stroke-width="1.05"/>
<line x1="57.40" y1="673.07" x2="64.60" y2="673.07" stroke="#111" stroke-width="1.05"/>
<line x1="225.80" y1="673.07" x2="218.60" y2="673.07" stroke="#111" stroke-width="1.05"/>
<line x1="57.40" y1="653.13" x2="64.60" y2="653.13" stroke="#111" stroke-width="1.05"/>
<line x1="225.80" y1="653.13" x2="218.60" y2="653.13" stroke="#111" stroke-width="1.05"/>
<line x1="57.40" y1="633.19" x2="64.60" y2="633.19" stroke="#111" stroke-width="1.05"/>
<line x1="225.80" y1="633.19" x2="218.60" y2="633.19" stroke="#111" stroke-width="1.05"/>
<line x1="57.40" y1="613.24" x2="64.60" y2="613.24" stroke="#111" stroke-width="1.05"/>
<line x1="225.80" y1="613.24" x2="218.60" y2="613.24" stroke="#111" stroke-width="1.05"/>
<text x="53.8" y="736.4" font-size="9.7" fill="#111" text-anchor="end" stroke="#111" stroke-width="0.18">0</text>
<text x="53.8" y="716.4571428571428" font-size="9.7" fill="#111" text-anchor="end" stroke="#111" stroke-width="0.18">5</text>
<text x="53.8" y="696.5142857142857" font-size="9.7" fill="#111" text-anchor="end" stroke="#111" stroke-width="0.18">10</text>
<text x="53.8" y="676.5714285714286" font-size="9.7" fill="#111" text-anchor="end" stroke="#111" stroke-width="0.18">15</text>
<text x="53.8" y="656.6285714285714" font-size="9.7" fill="#111" text-anchor="end" stroke="#111" stroke-width="0.18">20</text>
<text x="53.8" y="636.6857142857143" font-size="9.7" fill="#111" text-anchor="end" stroke="#111" stroke-width="0.18">25</text>
<text x="53.8" y="616.7428571428571" font-size="9.7" fill="#111" text-anchor="end" stroke="#111" stroke-width="0.18">30</text>
<text x="53.8" y="596.8" font-size="9.7" fill="#111" text-anchor="end" stroke="#111" stroke-width="0.18">35</text>
<text x="57.4" y="746" font-size="9.7" fill="#111" text-anchor="middle" stroke="#111" stroke-width="0.18">380</text>
<text x="83.21666666666667" y="746" font-size="9.7" fill="#111" text-anchor="middle" stroke="#111" stroke-width="0.18">400</text>
<text x="109.03333333333333" y="746" font-size="9.7" fill="#111" text-anchor="middle" stroke="#111" stroke-width="0.18">420</text>
<text x="134.85" y="746" font-size="9.7" fill="#111" text-anchor="middle" stroke="#111" stroke-width="0.18">440</text>
<text x="160.66666666666666" y="746" font-size="9.7" fill="#111" text-anchor="middle" stroke="#111" stroke-width="0.18">460</text>
<text x="186.48333333333335" y="746" font-size="9.7" fill="#111" text-anchor="middle" stroke="#111" stroke-width="0.18">480</text>
<text x="212.3" y="746" font-size="9.7" fill="#111" text-anchor="middle" stroke="#111" stroke-width="0.18">500</text>
<text x="141.4" y="761.6" font-size="9.7" fill="#111" text-anchor="middle" stroke="#111" stroke-width="0.18">Wavelength (nm)</text>
<text x="0" y="0" font-size="9.7" fill="#111" text-anchor="middle" stroke="#111" stroke-width="0.18" transform="translate(32.8,663.4) rotate(-90)">ΔA (mOD)</text>
<line x1="121.94" y1="594.30" x2="121.94" y2="731.90" stroke="#333" stroke-width="1.4" stroke-dasharray="1.5 2.7"/>
<path d="M66.44,679.05 C67.08,678.26 68.80,675.80 70.31,674.27 C71.81,672.74 73.32,671.41 75.47,669.88 C77.62,668.35 80.85,666.49 83.22,665.09 C85.58,663.70 87.73,662.70 89.67,661.50 C91.61,660.31 93.33,658.71 94.83,657.91 C96.34,657.12 97.52,656.32 98.71,656.72 C99.89,657.12 100.86,657.78 101.93,660.31 C103.01,662.83 103.98,667.16 105.16,671.87 C106.34,676.59 107.53,682.84 109.03,688.63 C110.54,694.41 112.58,701.46 114.20,706.58 C115.81,711.69 117.42,716.35 118.71,719.34 C120.01,722.33 120.54,723.00 121.94,724.52 C123.34,726.05 124.95,727.75 127.10,728.51 C129.26,729.28 131.41,729.04 134.85,729.11 C138.29,729.18 141.30,729.01 147.76,728.91 C154.21,728.81 164.54,728.61 173.57,728.51 C182.61,728.41 193.37,728.25 201.97,728.31 C210.58,728.38 221.34,728.81 225.21,728.91" fill="none" stroke="#7fcb8c" stroke-width="1.6" stroke-linejoin="round"/>
<circle cx="66.44" cy="679.05" r="3.0" fill="#7fcb8c"/>
<circle cx="75.47" cy="669.88" r="3.0" fill="#7fcb8c"/>
<circle cx="83.22" cy="664.70" r="3.0" fill="#7fcb8c"/>
<circle cx="89.67" cy="662.30" r="3.0" fill="#7fcb8c"/>
<circle cx="100.00" cy="657.52" r="3.0" fill="#7fcb8c"/>
<circle cx="109.03" cy="688.63" r="3.0" fill="#7fcb8c"/>
<circle cx="121.94" cy="724.52" r="3.0" fill="#7fcb8c"/>
<circle cx="134.85" cy="728.51" r="3.0" fill="#7fcb8c"/>
<circle cx="147.76" cy="728.91" r="3.0" fill="#7fcb8c"/>
<circle cx="173.57" cy="728.51" r="3.0" fill="#7fcb8c"/>
<circle cx="201.97" cy="728.51" r="3.0" fill="#7fcb8c"/>
<circle cx="225.21" cy="728.91" r="3.0" fill="#7fcb8c"/>
<path d="M66.44,645.15 C67.51,642.63 70.74,634.18 72.89,629.99 C75.04,625.81 77.62,622.08 79.34,620.02 C81.07,617.96 81.71,618.10 83.22,617.63 C84.72,617.16 86.44,616.83 88.38,617.23 C90.32,617.63 92.90,619.36 94.83,620.02 C96.77,620.69 98.28,621.15 100.00,621.22 C101.72,621.29 103.65,621.09 105.16,620.42 C106.67,619.76 107.63,619.23 109.03,617.23 C110.43,615.24 112.05,611.12 113.55,608.46 C115.06,605.80 116.67,602.14 118.07,601.28 C119.47,600.41 120.76,600.61 121.94,603.27 C123.12,605.93 123.88,609.92 125.17,617.23 C126.46,624.54 128.07,637.64 129.69,647.15 C131.30,656.65 133.13,667.02 134.85,674.27 C136.57,681.51 137.86,686.03 140.01,690.62 C142.16,695.21 144.75,698.93 147.76,701.79 C150.77,704.65 153.78,705.91 158.09,707.77 C162.39,709.63 168.84,711.56 173.57,712.96 C178.31,714.35 181.75,715.08 186.48,716.15 C191.22,717.21 197.46,718.47 201.97,719.34 C206.49,720.20 209.72,720.67 213.59,721.33 C217.46,722.00 223.27,723.00 225.21,723.33" fill="none" stroke="#2750a4" stroke-width="1.6" stroke-linejoin="round"/>
<circle cx="66.44" cy="645.15" r="3.0" fill="#2750a4"/>
<circle cx="83.22" cy="618.03" r="3.0" fill="#2750a4"/>
<circle cx="100.00" cy="621.22" r="3.0" fill="#2750a4"/>
<circle cx="109.03" cy="617.63" r="3.0" fill="#2750a4"/>
<circle cx="121.94" cy="603.27" r="3.0" fill="#2750a4"/>
<circle cx="134.85" cy="674.27" r="3.0" fill="#2750a4"/>
<circle cx="147.76" cy="701.79" r="3.0" fill="#2750a4"/>
<circle cx="173.57" cy="712.96" r="3.0" fill="#2750a4"/>
<circle cx="201.97" cy="719.34" r="3.0" fill="#2750a4"/>
<circle cx="225.21" cy="723.33" r="3.0" fill="#2750a4"/>
<line x1="152.20" y1="611.10" x2="169.80" y2="611.10" stroke="#2750a4" stroke-width="1.6"/>
<line x1="152.20" y1="621.50" x2="169.80" y2="621.50" stroke="#7fcb8c" stroke-width="1.6"/>
<text x="173.2" y="614.6" font-size="9.7" fill="#111" stroke="#111" stroke-width="0.18">pH = 6.71</text>
<text x="173.2" y="625" font-size="9.7" fill="#111" stroke="#111" stroke-width="0.18">pH = 2.00</text>
<text x="144.2" y="663.8" font-size="9.8" fill="#2750a4" stroke="#2750a4" font-weight="bold">2</text>
<text x="96" y="703.2" font-size="9.8" fill="#7fcb8c" stroke="#7fcb8c" font-weight="bold">3</text>
<rect x="272" y="593.7" width="170.40" height="139.70" fill="#fff" stroke="#111" stroke-width="1.2"/>
<line x1="300.40" y1="733.40" x2="300.40" y2="726.20" stroke="#111" stroke-width="1.05"/>
<line x1="300.40" y1="593.70" x2="300.40" y2="600.90" stroke="#111" stroke-width="1.05"/>
<line x1="328.80" y1="733.40" x2="328.80" y2="726.20" stroke="#111" stroke-width="1.05"/>
<line x1="328.80" y1="593.70" x2="328.80" y2="600.90" stroke="#111" stroke-width="1.05"/>
<line x1="357.20" y1="733.40" x2="357.20" y2="726.20" stroke="#111" stroke-width="1.05"/>
<line x1="357.20" y1="593.70" x2="357.20" y2="600.90" stroke="#111" stroke-width="1.05"/>
<line x1="385.60" y1="733.40" x2="385.60" y2="726.20" stroke="#111" stroke-width="1.05"/>
<line x1="385.60" y1="593.70" x2="385.60" y2="600.90" stroke="#111" stroke-width="1.05"/>
<line x1="414.00" y1="733.40" x2="414.00" y2="726.20" stroke="#111" stroke-width="1.05"/>
<line x1="414.00" y1="593.70" x2="414.00" y2="600.90" stroke="#111" stroke-width="1.05"/>
<line x1="272.00" y1="713.44" x2="279.20" y2="713.44" stroke="#111" stroke-width="1.05"/>
<line x1="442.40" y1="713.44" x2="435.20" y2="713.44" stroke="#111" stroke-width="1.05"/>
<line x1="272.00" y1="693.49" x2="279.20" y2="693.49" stroke="#111" stroke-width="1.05"/>
<line x1="442.40" y1="693.49" x2="435.20" y2="693.49" stroke="#111" stroke-width="1.05"/>
<line x1="272.00" y1="673.53" x2="279.20" y2="673.53" stroke="#111" stroke-width="1.05"/>
<line x1="442.40" y1="673.53" x2="435.20" y2="673.53" stroke="#111" stroke-width="1.05"/>
<line x1="272.00" y1="653.57" x2="279.20" y2="653.57" stroke="#111" stroke-width="1.05"/>
<line x1="442.40" y1="653.57" x2="435.20" y2="653.57" stroke="#111" stroke-width="1.05"/>
<line x1="272.00" y1="633.61" x2="279.20" y2="633.61" stroke="#111" stroke-width="1.05"/>
<line x1="442.40" y1="633.61" x2="435.20" y2="633.61" stroke="#111" stroke-width="1.05"/>
<line x1="272.00" y1="613.66" x2="279.20" y2="613.66" stroke="#111" stroke-width="1.05"/>
<line x1="442.40" y1="613.66" x2="435.20" y2="613.66" stroke="#111" stroke-width="1.05"/>
<text x="268.4" y="736.9" font-size="9.7" fill="#111" text-anchor="end" stroke="#111" stroke-width="0.18">0</text>
<text x="268.4" y="716.9428571428572" font-size="9.7" fill="#111" text-anchor="end" stroke="#111" stroke-width="0.18">5</text>
<text x="268.4" y="696.9857142857143" font-size="9.7" fill="#111" text-anchor="end" stroke="#111" stroke-width="0.18">10</text>
<text x="268.4" y="677.0285714285715" font-size="9.7" fill="#111" text-anchor="end" stroke="#111" stroke-width="0.18">15</text>
<text x="268.4" y="657.0714285714286" font-size="9.7" fill="#111" text-anchor="end" stroke="#111" stroke-width="0.18">20</text>
<text x="268.4" y="637.1142857142858" font-size="9.7" fill="#111" text-anchor="end" stroke="#111" stroke-width="0.18">25</text>
<text x="268.4" y="617.1571428571428" font-size="9.7" fill="#111" text-anchor="end" stroke="#111" stroke-width="0.18">30</text>
<text x="268.4" y="597.2" font-size="9.7" fill="#111" text-anchor="end" stroke="#111" stroke-width="0.18">35</text>
<text x="272.0" y="746.7" font-size="9.7" fill="#111" text-anchor="middle" stroke="#111" stroke-width="0.18">1</text>
<text x="300.4" y="746.7" font-size="9.7" fill="#111" text-anchor="middle" stroke="#111" stroke-width="0.18">2</text>
<text x="328.8" y="746.7" font-size="9.7" fill="#111" text-anchor="middle" stroke="#111" stroke-width="0.18">3</text>
<text x="357.2" y="746.7" font-size="9.7" fill="#111" text-anchor="middle" stroke="#111" stroke-width="0.18">4</text>
<text x="385.59999999999997" y="746.7" font-size="9.7" fill="#111" text-anchor="middle" stroke="#111" stroke-width="0.18">5</text>
<text x="414.0" y="746.7" font-size="9.7" fill="#111" text-anchor="middle" stroke="#111" stroke-width="0.18">6</text>
<text x="442.4" y="746.7" font-size="9.7" fill="#111" text-anchor="middle" stroke="#111" stroke-width="0.18">7</text>
<text x="357.4" y="761.6" font-size="9.7" fill="#111" text-anchor="middle" stroke="#111" stroke-width="0.18">pH</text>
<text x="0" y="0" font-size="9.7" fill="#111" text-anchor="middle" stroke="#111" stroke-width="0.18" transform="translate(247.4,663.4) rotate(-90)">ΔA<tspan font-size="6.6" dy="1.6">430nm</tspan><tspan dy="-1.6"> (mOD)</tspan></text>
<line x1="345.84" y1="594.70" x2="345.84" y2="732.40" stroke="#222" stroke-width="1.2" stroke-dasharray="3.2 2.6"/>
<path d="M272.00,731.34 L273.42,731.31 L274.84,731.27 L276.26,731.23 L277.68,731.19 L279.10,731.14 L280.52,731.08 L281.94,731.01 L283.36,730.94 L284.78,730.86 L286.20,730.77 L287.62,730.67 L289.04,730.56 L290.46,730.43 L291.88,730.29 L293.30,730.13 L294.72,729.96 L296.14,729.76 L297.56,729.54 L298.98,729.29 L300.40,729.01 L301.82,728.70 L303.24,728.36 L304.66,727.97 L306.08,727.54 L307.50,727.07 L308.92,726.53 L310.34,725.94 L311.76,725.29 L313.18,724.56 L314.60,723.75 L316.02,722.85 L317.44,721.87 L318.86,720.78 L320.28,719.58 L321.70,718.26 L323.12,716.82 L324.54,715.25 L325.96,713.53 L327.38,711.66 L328.80,709.64 L330.22,707.46 L331.64,705.12 L333.06,702.61 L334.48,699.94 L335.90,697.10 L337.32,694.11 L338.74,690.97 L340.16,687.70 L341.58,684.30 L343.00,680.79 L344.42,677.19 L345.84,673.53 L347.26,669.82 L348.68,666.10 L350.10,662.38 L351.52,658.69 L352.94,655.05 L354.36,651.48 L355.78,648.02 L357.20,644.66 L358.62,641.44 L360.04,638.36 L361.46,635.43 L362.88,632.66 L364.30,630.05 L365.72,627.61 L367.14,625.33 L368.56,623.22 L369.98,621.26 L371.40,619.45 L372.82,617.79 L374.24,616.27 L375.66,614.88 L377.08,613.61 L378.50,612.46 L379.92,611.41 L381.34,610.46 L382.76,609.60 L384.18,608.83 L385.60,608.13 L387.02,607.50 L388.44,606.93 L389.86,606.42 L391.28,605.96 L392.70,605.55 L394.12,605.19 L395.54,604.85 L396.96,604.56 L398.38,604.29 L399.80,604.06 L401.22,603.85 L402.64,603.66 L404.06,603.49 L405.48,603.34 L406.90,603.20 L408.32,603.08 L409.74,602.97 L411.16,602.88 L412.58,602.79 L414.00,602.71 L415.42,602.64 L416.84,602.58 L418.26,602.53 L419.68,602.48 L421.10,602.44 L422.52,602.40 L423.94,602.36 L425.36,602.33 L426.78,602.31 L428.20,602.28 L429.62,602.26 L431.04,602.24 L432.46,602.22 L433.88,602.21 L435.30,602.19 L436.72,602.18 L438.14,602.17 L439.56,602.16 L440.98,602.15 L442.40,602.15" fill="none" stroke="#d8472a" stroke-width="1.5" stroke-linejoin="round"/>
<circle cx="300.40" cy="725.02" r="2.1" fill="#111"/>
<circle cx="323.97" cy="718.63" r="2.1" fill="#111"/>
<circle cx="335.05" cy="702.67" r="2.1" fill="#111"/>
<circle cx="347.26" cy="672.33" r="2.1" fill="#111"/>
<circle cx="363.45" cy="624.03" r="2.1" fill="#111"/>
<circle cx="418.26" cy="605.67" r="2.1" fill="#111"/>
<circle cx="433.88" cy="603.68" r="2.1" fill="#111"/>
<text x="397.2" y="695.9" font-size="9.7" fill="#111" text-anchor="middle" stroke="#111" stroke-width="0.18">p<tspan font-style="italic">K</tspan><tspan font-size="6.8" dy="1.8">a</tspan><tspan dy="-1.8"> (</tspan><tspan font-weight="bold">3</tspan>) =</text>
<text x="397.4" y="707.2" font-size="9.7" fill="#111" text-anchor="middle" stroke="#111" stroke-width="0.18">3.69 ± 0.07</text>
<rect x="453" y="549.5" width="409.5" height="221.5" fill="#fff" stroke="#2a2a2a" stroke-width="1"/>
<text x="467.9" y="576.4" font-size="18.6" fill="#141414" stroke="#141414" textLength="15" lengthAdjust="spacingAndGlyphs">D</text>
<text x="495" y="573.5" font-size="13.7" fill="#141414" stroke="#141414" textLength="279.8" lengthAdjust="spacingAndGlyphs">Spectrum of Representative Hammett Constants</text>
<text x="779.5" y="573.5" font-size="13.7" fill="#141414" stroke="#141414" textLength="7.8" lengthAdjust="spacingAndGlyphs">σ</text>
<text x="788.6" y="578" font-size="9.8" fill="#141414" stroke="#141414">p</text>
<text x="794.6" y="569.6" font-size="8.4" fill="#141414" stroke="#141414">−</text>
<text x="599" y="606" font-size="11.0" fill="#141414" stroke="#141414" textLength="135" lengthAdjust="spacingAndGlyphs">Transient Polarity Inversion</text>
<text x="573.6" y="621.6" font-size="11.0" fill="#141414" stroke="#141414" font-weight="bold" textLength="186" lengthAdjust="spacingAndGlyphs">1000× More Electron-Withdrawing</text>
<path d="M520.5,648.8 V632.5 H814 V646" stroke="#222" stroke-width="1.0" fill="none"/>
<polygon points="814.00,650.60 811.20,643.20 814.00,644.80 816.80,643.20" fill="#222"/>
<text x="471.2" y="665.8" font-size="11.2" fill="#3d67b2" stroke="#3d67b2" textLength="28.3" lengthAdjust="spacingAndGlyphs">-NEt<tspan font-size="8.4" dy="3.2">2</tspan></text>
<text x="507.5" y="665.8" font-size="11.2" fill="#3d67b2" stroke="#3d67b2" textLength="20.8" lengthAdjust="spacingAndGlyphs">-OH</text>
<text x="537" y="665.8" font-size="11.2" fill="#3d67b2" stroke="#3d67b2" textLength="29.3" lengthAdjust="spacingAndGlyphs">-OMe</text>
<text x="571.2" y="665.8" font-size="11.2" fill="#141414" stroke="#141414" textLength="10.8" lengthAdjust="spacingAndGlyphs">-H</text>
<text x="627" y="665.8" font-size="11.2" fill="#d2402c" stroke="#d2402c" textLength="21.8" lengthAdjust="spacingAndGlyphs">-CF<tspan font-size="8.4" dy="3.2">3</tspan></text>
<text x="685" y="665.8" font-size="11.2" fill="#d2402c" stroke="#d2402c" textLength="20" lengthAdjust="spacingAndGlyphs">-CN</text>
<text x="722.5" y="665.8" font-size="11.2" fill="#d2402c" stroke="#d2402c" textLength="27" lengthAdjust="spacingAndGlyphs">-NO<tspan font-size="8.4" dy="3.2">2</tspan></text>
<text x="805.8" y="665.8" font-size="11.2" fill="#d2402c" stroke="#d2402c" textLength="19.2" lengthAdjust="spacingAndGlyphs">-O<tspan font-size="14">•</tspan></text>
<text x="471.2" y="687.6" font-size="11.2" fill="#141414" stroke="#141414" textLength="28" lengthAdjust="spacingAndGlyphs">–0.46</text>
<text x="504.5" y="687.6" font-size="11.2" fill="#141414" stroke="#141414" textLength="26.8" lengthAdjust="spacingAndGlyphs">–0.37</text>
<text x="538.2" y="687.6" font-size="11.2" fill="#141414" stroke="#141414" textLength="27.5" lengthAdjust="spacingAndGlyphs">–0.26</text>
<text x="573.2" y="687.6" font-size="11.2" fill="#141414" stroke="#141414" textLength="6.8" lengthAdjust="spacingAndGlyphs">0</text>
<text x="627" y="687.6" font-size="11.2" fill="#141414" stroke="#141414" textLength="21.3" lengthAdjust="spacingAndGlyphs">0.65</text>
<text x="683.8" y="687.6" font-size="11.2" fill="#141414" stroke="#141414" textLength="21.7" lengthAdjust="spacingAndGlyphs">1.00</text>
<text x="725" y="687.6" font-size="11.2" fill="#141414" stroke="#141414" textLength="21.7" lengthAdjust="spacingAndGlyphs">1.27</text>
<text x="804.2" y="687.6" font-size="11.2" fill="#141414" stroke="#141414" textLength="21.3" lengthAdjust="spacingAndGlyphs">2.79</text>
<defs><linearGradient id="hg" x1="0" y1="0" x2="1" y2="0"><stop offset="0" stop-color="#d6ddec"/><stop offset="0.2" stop-color="#d8d9e9"/><stop offset="0.33" stop-color="#dccde0"/><stop offset="0.47" stop-color="#e1b4c4"/><stop offset="0.6" stop-color="#e196a2"/><stop offset="0.72" stop-color="#de7375"/><stop offset="0.84" stop-color="#d94d3e"/><stop offset="0.93" stop-color="#d43c24"/><stop offset="1" stop-color="#d03c1e"/></linearGradient></defs>
<rect x="481.8" y="704.2" width="338.2" height="9.1" fill="url(#hg)"/>
<polygon points="819.20,698.20 829.00,708.60 819.20,718.20" fill="#d03c1e"/>
<line x1="485.20" y1="694.40" x2="485.20" y2="703.90" stroke="#111" stroke-width="2.0"/>
<line x1="518.80" y1="694.40" x2="518.80" y2="703.90" stroke="#111" stroke-width="2.0"/>
<line x1="553.20" y1="694.40" x2="553.20" y2="703.90" stroke="#111" stroke-width="2.0"/>
<line x1="576.20" y1="694.40" x2="576.20" y2="703.90" stroke="#111" stroke-width="2.0"/>
<line x1="638.20" y1="694.40" x2="638.20" y2="703.90" stroke="#111" stroke-width="2.0"/>
<line x1="695.50" y1="694.40" x2="695.50" y2="703.90" stroke="#111" stroke-width="2.0"/>
<line x1="735.50" y1="694.40" x2="735.50" y2="703.90" stroke="#111" stroke-width="2.0"/>
<line x1="815.50" y1="694.40" x2="815.50" y2="703.90" stroke="#111" stroke-width="2.0"/>
<text x="833.2" y="710.6" font-size="11.8" fill="#d2402c" stroke="#d2402c" textLength="7.4" lengthAdjust="spacingAndGlyphs">σ</text>
<text x="841.3" y="715.6" font-size="7.6" fill="#d2402c" stroke="#d2402c">P</text>
<text x="846.4" y="706" font-size="7.4" fill="#d2402c" stroke="#d2402c">−</text>
<text x="473.6" y="740" font-size="11.2" fill="#3d67b2" stroke="#3d67b2" textLength="45.8" lengthAdjust="spacingAndGlyphs">Electron-</text>
<text x="473.2" y="755.6" font-size="11.2" fill="#3d67b2" stroke="#3d67b2" textLength="46.8" lengthAdjust="spacingAndGlyphs">Donating</text>
<text x="778.8" y="740" font-size="11.2" fill="#d2402c" stroke="#d2402c" textLength="45.5" lengthAdjust="spacingAndGlyphs">Electron-</text>
<text x="769.2" y="755.6" font-size="11.2" fill="#d2402c" stroke="#d2402c" textLength="64" lengthAdjust="spacingAndGlyphs">Withdrawing</text>
</svg>
</body></html>
